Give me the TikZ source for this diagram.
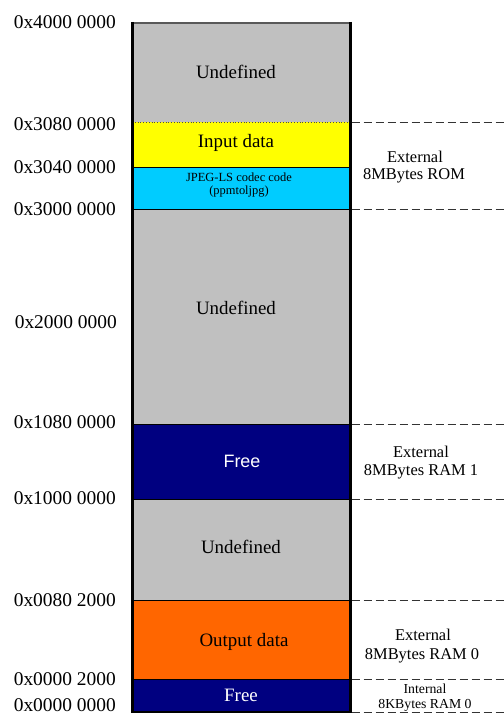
\documentclass[tikz,border=0pt]{standalone}
\usepackage{fontspec}
\setmainfont{Liberation Serif}
\newfontfamily\arialf{Liberation Sans}
\definecolor{memgray}{HTML}{C0C0C0}
\definecolor{memyellow}{HTML}{FFFF00}
\definecolor{memcyan}{HTML}{00CCFF}
\definecolor{memnavy}{HTML}{000080}
\definecolor{memorange}{HTML}{FF6600}
\tikzset{
  addr/.style={anchor=east, inner sep=0pt, font=\fontsize{19.5}{22}\selectfont},
  regtext/.style={inner sep=0pt, font=\fontsize{19}{22}\selectfont},
  side/.style={inner sep=0pt, font=\fontsize{16.5}{19}\selectfont},
  sidesmall/.style={inner sep=0pt, font=\fontsize{13.8}{16}\selectfont},
  divider/.style={line width=0.9bp, black},
  guide/.style={line width=0.8bp, black!80, dash pattern=on 8bp off 4bp},
}
\begin{document}
\begin{tikzpicture}[x=1bp,y=-1bp]
\useasboundingbox (0,0) rectangle (504,715);
% region fills
\fill[memgray]   (132,23)  rectangle (350,122);
\fill[memyellow] (132,122) rectangle (350,167);
\fill[memcyan]   (132,167) rectangle (350,209);
\fill[memgray]   (132,209) rectangle (350,424);
\fill[memnavy]   (132,424) rectangle (350,499);
\fill[memgray]   (132,499) rectangle (350,600);
\fill[memorange] (132,600) rectangle (350,679);
\fill[memnavy]   (132,679) rectangle (350,712);
% dividers
\draw[black!70, line width=0.8bp, dotted] (132,122) -- (350,122);
\foreach \yy in {167,209,424,499,600,679}{
  \draw[divider] (132,\yy) -- (350,\yy);
}
% outline
\draw[black!65, line width=2bp] (132,23) -- (350,23);
\draw[black, line width=1.5bp] (132,712) -- (350,712);
\draw[black, line width=3bp] (132,22) -- (132,713);
\draw[black, line width=3bp] (350,22) -- (350,713);
% dashed guides
\foreach \yy in {122,209,424,499,600,679,712}{
  \draw[guide] (351.5,\yy) -- (504,\yy);
}
% region labels
\node[regtext] (u1) at (236,72) {Undefined};
\node[regtext] (inp) at (236,143) {Input data};
\node[inner sep=0pt, font=\fontsize{12.5}{14}\selectfont, align=center] (jpg) at (239,185) {JPEG-LS codec code\\[-1pt](ppmtoljpg)};
\node[regtext] (u2) at (236,308) {Undefined};
\node[inner sep=0pt, text=white, font=\arialf\fontsize{18}{21}\selectfont] (free1) at (242,461) {Free};
\node[regtext] (u3) at (241,547) {Undefined};
\node[regtext] (out) at (244,642) {Output data};
\node[regtext, text=white] (free0) at (241,695) {Free};
% address labels
\node[addr] (a4000) at (116,22) {0x4000 0000};
\node[addr] (a3080) at (116,124) {0x3080 0000};
\node[addr] (a3040) at (116,167) {0x3040 0000};
\node[addr] (a3000) at (116,209) {0x3000 0000};
\node[addr] (a2000) at (117,322) {0x2000 0000};
\node[addr] (a1080) at (116,422) {0x1080 0000};
\node[addr] (a1000) at (116,498) {0x1000 0000};
\node[addr] (a0080) at (116,600) {0x0080 2000};
\node[addr] (a0002) at (116,679) {0x0000 2000};
\node[addr] (a0000) at (116,705) {0x0000 0000};
% side labels
\node[side] (rom1) at (415,157) {External};
\node[side] (rom2) at (414,176) {8MBytes ROM};
\node[side] (r11) at (421,452) {External};
\node[side] (r12) at (421,472) {8MBytes RAM 1};
\node[side] (r01) at (423,635) {External};
\node[side] (r02) at (422,656) {8MBytes RAM 0};
\node[sidesmall] (i1) at (425,689) {Internal};
\node[sidesmall] (i2) at (425,705) {8KBytes RAM 0};
\end{tikzpicture}
\end{document}
